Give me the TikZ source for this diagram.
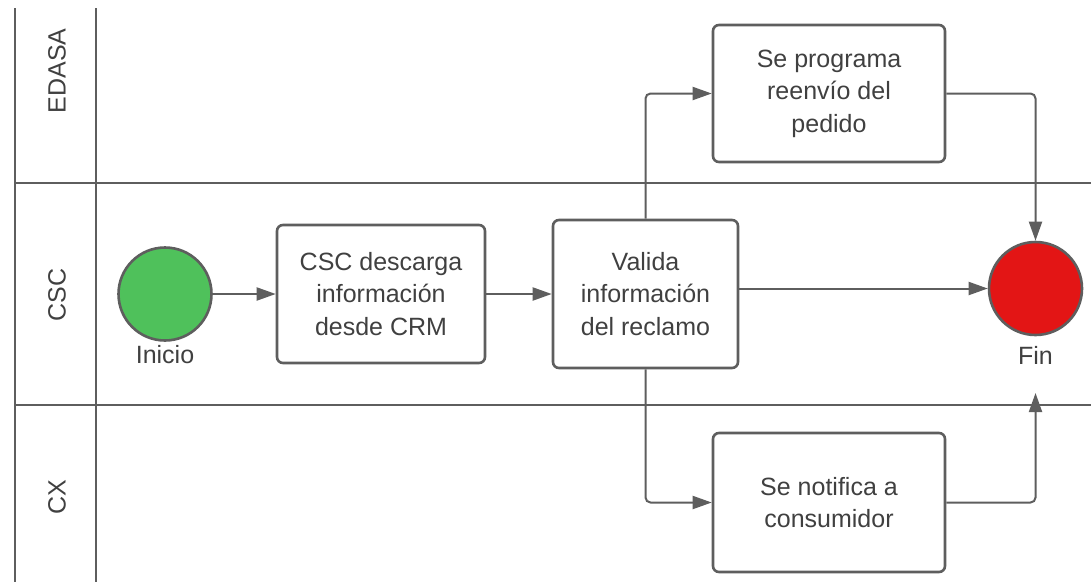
\documentclass[tikz,border=0pt]{standalone}
\usepackage{fontspec}
\setmainfont{Liberation Sans}
\usetikzlibrary{arrows.meta}
\definecolor{lin}{HTML}{5E5E5E}
\definecolor{txt}{HTML}{404040}
\definecolor{gstart}{HTML}{4FC15B}
\definecolor{rend}{HTML}{E31515}
\tikzset{
  lane/.style={draw=lin, line width=2.4pt},
  task/.style={draw=lin, line width=2.6pt, rounded corners=6pt, rectangle, align=center,
    text=txt, font=\fontsize{25}{32.5}\selectfont, inner sep=0pt},
  event/.style={draw=lin, line width=2.6pt, circle, inner sep=0pt, minimum size=93pt},
  lbl/.style={text=txt, font=\fontsize{25}{30}\selectfont, inner sep=0pt},
  lanelbl/.style={text=txt, font=\fontsize{25}{30}\selectfont, rotate=90, inner sep=0pt},
  arr/.style={draw=lin, line width=2pt, rounded corners=5pt, -{Triangle[length=19pt,width=13pt]}}
}
\begin{document}
\begin{tikzpicture}[x=1pt,y=-1pt]
\useasboundingbox (0,0) rectangle (1091,582);
% lanes
\draw[lane] (15,8) -- (15,582);
\draw[lane] (96,8) -- (96,582);
\draw[lane] (15,183) -- (1091,183);
\draw[lane] (15,405) -- (1091,405);
\node[lanelbl] (l1) at (57,71) {EDASA};
\node[lanelbl] (l2) at (57,295) {CSC};
\node[lanelbl] (l3) at (57,497) {CX};
% nodes
\node[event, fill=gstart] (start) at (165,294) {};
\node[lbl] (startlbl) at (165,355) {Inicio};
\node[task, minimum width=208pt, minimum height=138pt] (csc) at (381,294) {CSC descarga\\información\\desde CRM};
\node[task, minimum width=185pt, minimum height=148pt] (val) at (645.5,294) {Valida\\información\\del reclamo};
\node[task, minimum width=232pt, minimum height=137pt] (prog) at (829,93.5) {Se programa\\reenvío del\\pedido};
\node[task, minimum width=232pt, minimum height=139pt] (notif) at (829,502.5) {Se notifica a\\consumidor};
\node[event, fill=rend] (fin) at (1035.5,288.5) {};
\node[lbl] (finlbl) at (1035.5,355) {Fin};
\coordinate (finin) at (1035.5,393);
% connectors
\draw[arr] (start) -- (csc);
\draw[arr] (csc) -- (val);
\draw[arr] (val.north) |- (prog.west);
\draw[arr] (prog.east) -| (fin.north);
\draw[arr] (val.east |- fin.west) -- (fin.west);
\draw[arr] (val.south) |- (notif.west);
\draw[arr] (notif.east) -| (finin);
\end{tikzpicture}
\end{document}
